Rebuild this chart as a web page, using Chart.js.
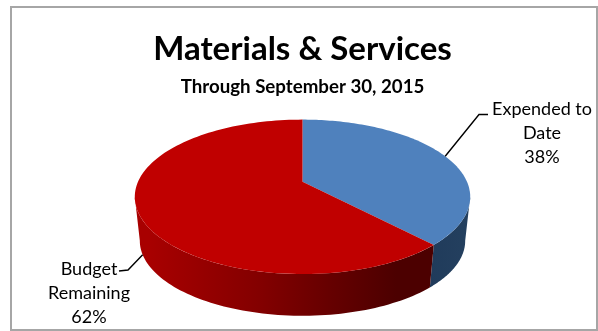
<!DOCTYPE html>
<html>
<head>
<meta charset="utf-8">
<title>Materials &amp; Services</title>
<style>
  html, body { margin: 0; padding: 0; background: #fff; }
  #wrap { position: relative; width: 598px; height: 331px; }
</style>
<script src="https://cdn.jsdelivr.net/npm/chart.js@4/dist/chart.umd.min.js"></script>
</head>
<body>
<div id="wrap"><canvas id="budgetChart" width="598" height="331"></canvas></div>
<script>
const categories = ["Expended to Date", "Budget Remaining"];
const labelLines = [["Expended to", "Date"], ["Budget", "Remaining"]];
const values = [38, 62];
const sliceColors = ["#4f81bd", "#c00000"];
const titleText = "Materials & Services";
const subtitleText = "Through September 30, 2015";

const FONT = "Lato, Carlito, Calibri, sans-serif";

// tilt of the pie: perspective strength, width and height of the projected disc
const TILT = { persp: 0.195, sx: 2.13, sy: 0.962, offsetY: -15, depth: 44, baseScale: 0.97 };

// unit circle -> screen, base=true gives the lower rim of the disc
function project(el, angle, base) {
  const u = Math.cos(angle), v = Math.sin(angle);
  const w = 1 - TILT.persp * v;
  const k = base ? TILT.baseScale : 1;
  return {
    x: el.x + k * TILT.sx * el.outerRadius * u / w,
    y: el.y + (base ? TILT.depth : 0) + k * (TILT.offsetY + TILT.sy * el.outerRadius * v / w)
  };
}

function sideGradient(ctx, index) {
  const g = ctx.createLinearGradient(135, 0, 470, 0);
  if (index === 0) {
    g.addColorStop(0.85, "#1f3a5a");
    g.addColorStop(1, "#24405f");
  } else {
    g.addColorStop(0.04, "#a80000");
    g.addColorStop(0.38, "#820000");
    g.addColorStop(0.58, "#660000");
    g.addColorStop(0.78, "#4c0000");
  }
  return g;
}

const pie3d = {
  id: "pie3d",
  beforeDatasetDraw(chart) {
    const ctx = chart.ctx;
    const arcs = chart.getDatasetMeta(0).data;
    // the widest point of the tilted disc sits a little below its hub
    const edge = Math.asin(TILT.persp);
    ctx.save();

    // outer wall first, only the part facing the viewer
    arcs.forEach((el, i) => {
      const from = Math.max(el.startAngle, edge);
      const to = Math.min(el.endAngle, Math.PI - edge);
      if (to <= from) return;
      ctx.beginPath();
      const steps = 80;
      for (let s = 0; s <= steps; s++) {
        const p = project(el, from + (to - from) * s / steps, false);
        s ? ctx.lineTo(p.x, p.y) : ctx.moveTo(p.x, p.y);
      }
      for (let s = steps; s >= 0; s--) {
        const p = project(el, from + (to - from) * s / steps, true);
        ctx.lineTo(p.x, p.y);
      }
      ctx.closePath();
      ctx.fillStyle = sideGradient(ctx, i);
      ctx.fill();
    });

    // top face
    arcs.forEach((el) => {
      const steps = 120;
      ctx.beginPath();
      ctx.moveTo(el.x, el.y + TILT.offsetY);
      for (let s = 0; s <= steps; s++) {
        const p = project(el, el.startAngle + (el.endAngle - el.startAngle) * s / steps, false);
        ctx.lineTo(p.x, p.y);
      }
      ctx.closePath();
      ctx.fillStyle = el.options.backgroundColor;
      ctx.fill();
    });

    ctx.restore();
    return false; // the flat arcs are replaced by the tilted ones
  }
};

const sliceLabels = {
  id: "sliceLabels",
  afterDraw(chart) {
    const ctx = chart.ctx;
    const arcs = chart.getDatasetMeta(0).data;
    // text centre, first line y, elbow of the leader, and which rim it touches
    const spots = [
      { x: 542, y: 109, elbow: [[488, 114.5], [479, 114.5]], base: false },
      { x: 89, y: 269, elbow: [[119, 271], [128, 270]], base: true }
    ];
    ctx.save();
    arcs.forEach((el, i) => {
      const spot = spots[i];
      const mid = (el.startAngle + el.endAngle) / 2;
      const end = project(el, mid, spot.base);
      ctx.strokeStyle = "#000";
      ctx.lineWidth = 1.4;
      ctx.beginPath();
      ctx.moveTo(spot.elbow[0][0], spot.elbow[0][1]);
      ctx.lineTo(spot.elbow[1][0], spot.elbow[1][1]);
      ctx.lineTo(end.x, end.y);
      ctx.stroke();

      ctx.fillStyle = "#000";
      ctx.font = "18px " + FONT;
      ctx.textAlign = "center";
      ctx.textBaseline = "middle";
      labelLines[i].concat(values[i] + "%").forEach((line, n) => {
        ctx.fillText(line, spot.x, spot.y + n * 24);
      });
    });

    // frame around the chart
    ctx.strokeStyle = "#a6a6a6";
    ctx.lineWidth = 2;
    ctx.strokeRect(11, 7, 586, 323);
    ctx.restore();
  }
};

new Chart(document.getElementById("budgetChart").getContext("2d"), {
  type: "pie",
  data: {
    labels: categories,
    datasets: [{
      data: values,
      backgroundColor: sliceColors,
      borderWidth: 0
    }]
  },
  options: {
    responsive: false,
    animation: false,
    layout: { padding: { top: 30, left: 135, right: 128, bottom: 57 } },
    plugins: {
      legend: { display: false },
      tooltip: { enabled: false },
      title: {
        display: true,
        text: titleText,
        color: "#000",
        font: { family: FONT, size: 33, weight: "bold", lineHeight: 1.16 },
        padding: { top: 0, bottom: 9 }
      },
      subtitle: {
        display: true,
        text: subtitleText,
        color: "#000",
        font: { family: FONT, size: 18.7, weight: "bold", lineHeight: 1.03 },
        padding: { top: 0, bottom: 23 }
      }
    }
  },
  plugins: [pie3d, sliceLabels]
});
</script>
</body>
</html>
